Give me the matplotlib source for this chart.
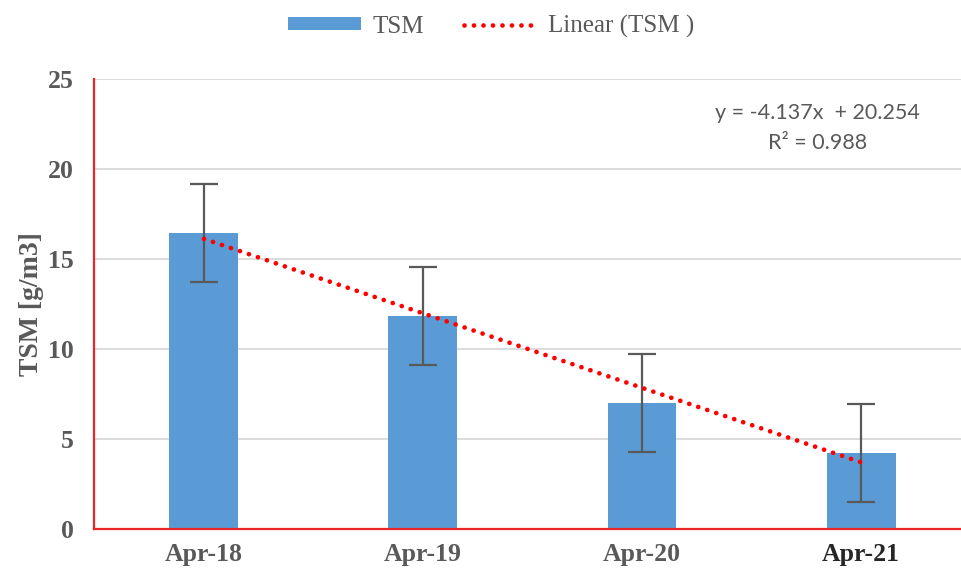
import matplotlib
matplotlib.use('Agg')
import matplotlib.pyplot as plt
import numpy as np
from matplotlib.patches import Patch
from matplotlib.lines import Line2D

# data
months = ['Apr-18', 'Apr-19', 'Apr-20', 'Apr-21']
tsm = [16.46, 11.85, 6.98, 4.22]
tsm_err = [2.72, 2.73, 2.72, 2.71]
# trendline as printed on the chart
slope = -4.137
intercept = 20.254
r2 = 0.988

grey = '#595959'
barBlue = '#5B9BD5'
spineRed = '#E8262A'
dotStyle = (0, (0.01, 2.0))

fig = plt.figure(figsize=(9.61, 5.79), dpi=100)
ax = fig.add_axes([0.0983, 0.0864, 0.9116, 0.7772])

xpos = np.arange(len(months))
ax.bar(xpos, tsm, width=0.315, color=barBlue, zorder=2)
ax.errorbar(xpos, tsm, yerr=tsm_err, fmt='none', ecolor=grey, elinewidth=1.6,
            capsize=10, capthick=1.6, zorder=3)

# linear trend (Excel style x = 1..n)
xt = xpos + 1
trend = slope * xt + intercept
ax.plot(xpos, trend, color='#FF0000', lw=3.4, linestyle=dotStyle,
        dash_capstyle='round', zorder=4)

ax.set_xlim(-0.5, 3.5)
ax.set_ylim(0, 25)
ax.set_yticks([0, 5, 10, 15, 20, 25])
ax.yaxis.grid(True, color='#D9D9D9', lw=1.3, zorder=0)
ax.set_axisbelow(True)

for s in ['top', 'right']:
    ax.spines[s].set_visible(False)
for s in ['left', 'bottom']:
    ax.spines[s].set_color(spineRed)
    ax.spines[s].set_linewidth(1.6)
    ax.spines[s].set_zorder(5)

ax.tick_params(axis='both', length=0)
ax.tick_params(axis='y', pad=15)
ax.tick_params(axis='x', pad=10)
ax.set_xticks(xpos)
ax.set_xticklabels(months)
for lab in ax.get_yticklabels() + ax.get_xticklabels():
    lab.set_fontfamily('Liberation Serif')
    lab.set_fontweight('bold')
    lab.set_fontsize(18.5)
    lab.set_color(grey)
ax.get_xticklabels()[-1].set_color('#262626')

ax.set_ylabel('TSM [g/m3]', fontfamily='Liberation Serif', fontweight='bold',
              fontsize=20, color=grey, labelpad=3)

ax.text(0.825, 0.924, 'y = %.3fx  + %.3f' % (slope, intercept), transform=ax.transAxes,
        ha='center', va='center', fontfamily='Lato', fontsize=15.5, color=grey)
ax.text(0.825, 0.858, 'R² = %.3f' % r2, transform=ax.transAxes,
        ha='center', va='center', fontfamily='Lato', fontsize=15.5, color=grey)

handles = [Patch(facecolor=barBlue, edgecolor='none'),
           Line2D([0], [0], color='#FF0000', lw=3.4, linestyle=dotStyle,
                  dash_capstyle='round')]
fig.legend(handles, ['TSM', 'Linear (TSM )'], loc='upper center',
           bbox_to_anchor=(0.511, 1.013), ncol=2, frameon=False,
           prop={'family': 'Liberation Serif', 'size': 18},
           labelcolor=grey, handlelength=2.9, handleheight=0.44,
           handletextpad=0.45, columnspacing=1.6)

fig.savefig('out.png', dpi=100, facecolor='white')
